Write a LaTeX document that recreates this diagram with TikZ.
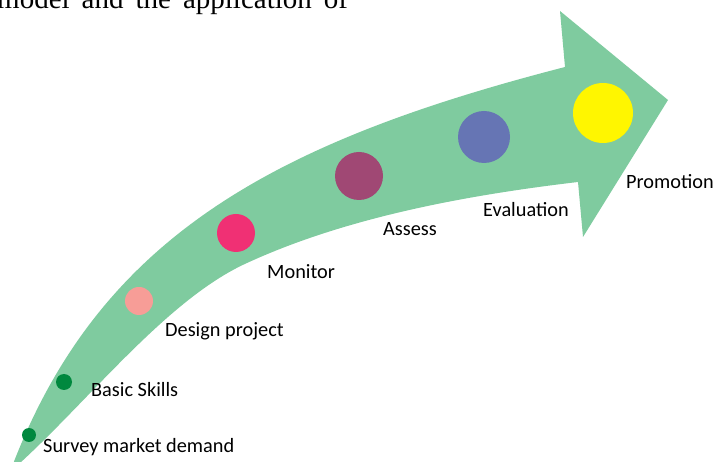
\documentclass[tikz,border=0pt]{standalone}
\usepackage{fontspec}
\setmainfont{Liberation Serif}
\newfontfamily\lblfont{Carlito}
\usepackage{tikz}
\definecolor{arrowgreen}{RGB}{127,203,159}
\definecolor{darkgreen}{RGB}{0,136,62}
\definecolor{salmon}{RGB}{247,157,151}
\definecolor{rose}{RGB}{240,48,116}
\definecolor{plum}{RGB}{160,72,116}
\definecolor{slate}{RGB}{102,117,180}
\definecolor{lemon}{RGB}{255,246,0}
\newcommand{\lblsize}{\fontsize{20.3}{22}\lblfont}

\begin{document}
\begin{tikzpicture}[x=1pt,y=-1pt]
        \useasboundingbox (0,0) rectangle (716,462);
        \clip (0,0) rectangle (716,462);

        % line of running text above
        \node (textline) at (-3,9) [anchor=base west, inner sep=0pt]
          {\fontsize{29}{30}\selectfont\spaceskip=12pt model and the application of};

        % the curved arrow: upper edge, head, lower edge
        \fill[arrowgreen] (10,472) .. controls (97.5,237) and (274,142) .. (565,67)
          -- (560,11) -- (668,100) -- (583,237) -- (578,182)
          .. controls (468,195) and (347,217) .. (247,263)
          .. controls (165,300) and (85,406) .. (10,472) -- cycle;

        % steps
        \node (survey) at (29,435) [circle, fill=darkgreen, inner sep=0pt, minimum size=14pt] {};
        \node (basic) at (64,382) [circle, fill=darkgreen, inner sep=0pt, minimum size=16pt] {};
        \node (design) at (139,301) [circle, fill=salmon, inner sep=0pt, minimum size=28pt] {};
        \node (monitor) at (236,233) [circle, fill=rose, inner sep=0pt, minimum size=38pt] {};
        \node (assess) at (359,176) [circle, fill=plum, inner sep=0pt, minimum size=48pt] {};
        \node (evaluation) at (484,137) [circle, fill=slate, inner sep=0pt, minimum size=52pt] {};
        \node (promotion) at (603,113) [circle, fill=lemon, inner sep=0pt, minimum size=60pt] {};

        \node (surveytxt) at (43,453) [anchor=base west, inner sep=0pt] {\lblsize Survey market demand};
        \node (basictxt) at (91,397) [anchor=base west, inner sep=0pt] {\lblsize Basic Skills};
        \node (designtxt) at (165,337) [anchor=base west, inner sep=0pt] {\lblsize Design project};
        \node (monitortxt) at (267,279) [anchor=base west, inner sep=0pt] {\lblsize Monitor};
        \node (assesstxt) at (383,236) [anchor=base west, inner sep=0pt] {\lblsize Assess};
        \node (evaluationtxt) at (483,217) [anchor=base west, inner sep=0pt] {\lblsize Evaluation};
        \node (promotiontxt) at (626,189) [anchor=base west, inner sep=0pt] {\lblsize Promotion};
\end{tikzpicture}
\end{document}
